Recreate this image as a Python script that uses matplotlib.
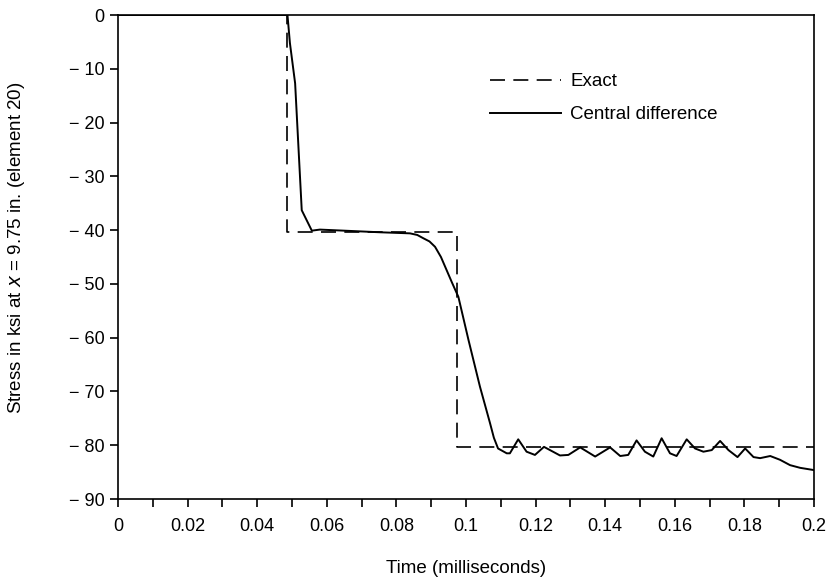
import matplotlib
matplotlib.use("Agg")
import matplotlib.pyplot as plt
from matplotlib.ticker import MultipleLocator

# exact solution (step response)
exact_t = [0.0, 0.0487, 0.0487, 0.0975, 0.0975, 0.2]
exact_s = [0.0, 0.0, -40.4, -40.4, -80.3, -80.3]

# central difference result
cd_t = [0.0, 0.0487, 0.0494, 0.0509, 0.0528, 0.0557, 0.0580, 0.0650, 0.0753,
        0.0839, 0.0860, 0.0877, 0.0895, 0.0911, 0.0928, 0.0944, 0.0960, 0.0978,
        0.1007, 0.1040, 0.1069, 0.1080, 0.1092,
        0.1117, 0.1126, 0.1150, 0.1174, 0.1198, 0.1224, 0.1270, 0.1294, 0.1328,
        0.1371, 0.1414, 0.1443, 0.1466, 0.1490, 0.1514, 0.1538, 0.1562, 0.1586,
        0.1605, 0.1634, 0.1658, 0.1682, 0.1706, 0.1730, 0.1754, 0.1780, 0.1802,
        0.1826, 0.1845, 0.1874, 0.1902, 0.1931, 0.1960, 0.1998]
cd_s = [0.0, 0.0, -5.2, -12.7, -36.3, -40.1, -39.9, -40.1, -40.4,
        -40.6, -40.9, -41.5, -42.1, -43.1, -45.0, -47.4, -49.8, -52.4,
        -60.4, -69.1, -75.9, -78.6, -80.6,
        -81.5, -81.5, -78.9, -81.2, -81.8, -80.3, -81.9, -81.8, -80.4,
        -82.1, -80.4, -82.0, -81.8, -79.1, -81.2, -82.1, -78.7, -81.5,
        -82.0, -78.9, -80.6, -81.2, -80.9, -79.2, -80.9, -82.2, -80.6,
        -82.2, -82.4, -82.0, -82.7, -83.7, -84.2, -84.6]

x_ticks = [0.0, 0.02, 0.04, 0.06, 0.08, 0.10, 0.12, 0.14, 0.16, 0.18, 0.20]
x_labels = ["0", "0.02", "0.04", "0.06", "0.08", "0.1", "0.12", "0.14",
            "0.16", "0.18", "0.2"]
y_ticks = [0, -10, -20, -30, -40, -50, -60, -70, -80, -90]
y_labels = ["0", "\u2212 10", "\u2212 20", "\u2212 30", "\u2212 40", "\u2212 50",
            "\u2212 60", "\u2212 70", "\u2212 80", "\u2212 90"]

plt.rcParams["font.family"] = ["Liberation Sans", "DejaVu Sans"]

fig = plt.figure(figsize=(8.29, 5.84), dpi=100)
ax = fig.add_axes([0.1423, 0.1455, 0.8397, 0.8288])

ax.plot(exact_t, exact_s, color="black", lw=1.2, dashes=(9, 5), label="Exact")
ax.plot(cd_t, cd_s, color="black", lw=1.4, label="Central difference")

ax.set_xlim(0, 0.2)
ax.set_ylim(-90, 0)
ax.set_xticks(x_ticks)
ax.set_xticklabels(x_labels)
ax.set_yticks(y_ticks)
ax.set_yticklabels(y_labels)
ax.xaxis.set_minor_locator(MultipleLocator(0.01))
ax.tick_params(which="both", direction="out", length=6, width=1.2,
               labelsize=13, colors="black")
ax.tick_params(axis="x", pad=8)

for sp in ax.spines.values():
    sp.set_linewidth(1.2)

ax.set_xlabel("Time (milliseconds)", fontsize=13.5, labelpad=18)
ax.set_ylabel("Stress in ksi at $x$ = 9.75 in. (element 20)", fontsize=13.5)
ax.yaxis.set_label_coords(-0.131, 0.519)

ax.legend(loc="upper left", bbox_to_anchor=(0.51, 0.915), frameon=False,
          fontsize=13.5, handlelength=3.8, handletextpad=0.5, labelspacing=0.85)

fig.savefig("out.png", dpi=100)
